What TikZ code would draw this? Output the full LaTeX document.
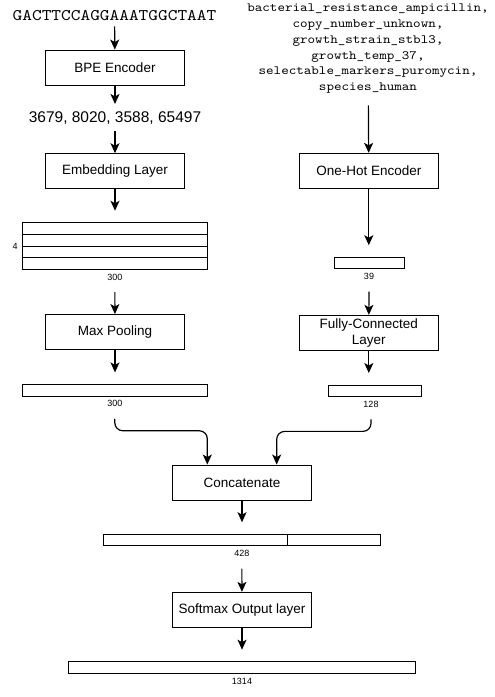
\documentclass[tikz,border=0pt]{standalone}
\usepackage{fontspec}
\setmainfont{Liberation Sans}
\newfontfamily\codefont[FakeStretch=1.14]{lmmono10-regular.otf}
\usetikzlibrary{arrows.meta, positioning, calc}

\begin{document}
\begin{tikzpicture}[
    x=1pt, y=-1pt,
    >={Stealth[length=10pt, width=9pt, inset=2.5pt]},
    layer/.style={
      rectangle, draw, line width=0.9pt, align=center,
      minimum width=138.6pt, minimum height=35pt, inner sep=2pt,
      font=\fontsize{13.5}{16}\selectfont
    },
    vec/.style={rectangle, draw, fill=white, line width=0.9pt, minimum height=11.7pt, inner sep=0pt},
    dim/.style={inner sep=0pt, font=\fontsize{9}{10}\selectfont},
    flow/.style={->, line width=1.2pt}
  ]
  \useasboundingbox (0,0) rectangle (495,697);

  % left branch: sequence tokens
  \node[anchor=base, inner sep=0pt, font=\codefont\fontsize{16.2}{18}\selectfont] (seq) at (114.5,20) {GACTTCCAGGAAATGGCTAAT};
  \node[layer] (bpe) at (115,67.5) {BPE Encoder};
  \node[anchor=base, inner sep=0pt, font=\fontsize{15.5}{18}\selectfont] (tok) at (115,122) {3679, 8020, 3588, 65497};
  \node[layer] (emb) at (115,171.2) {Embedding Layer};
  \node[vec, minimum width=185pt, minimum height=46.6pt] (mat) at (114.8,246) {};
  \foreach \f in {0.25,0.5,0.75}
    \draw[line width=0.9pt] ($(mat.north west)!\f!(mat.south west)$) -- ($(mat.north east)!\f!(mat.south east)$);
  \node[dim, left=4pt of mat] (matrows) {4};
  \node[dim, below=4pt of mat] (matcols) {300};
  \node[layer] (pool) at (115,332) {Max Pooling};
  \node[vec, minimum width=185pt] (vpool) at (114.8,390.2) {};
  \node[dim, below=4pt of vpool] (dpool) {300};

  % right branch: metadata
  \node[anchor=north, inner sep=0pt, align=center, font=\codefont\fontsize{12.6}{15.7}\selectfont] (meta) at (368,4)
    {bacterial\_resistance\_ampicillin,\\copy\_number\_unknown,\\growth\_strain\_stbl3,\\growth\_temp\_37,\\selectable\_markers\_puromycin,\\species\_human};
  \node[layer] (hot) at (368.8,170.8) {One-Hot Encoder};
  \node[vec, minimum width=70pt] (v39) at (369,263) {};
  \node[dim, below=4pt of v39] (d39) {39};
  \node[layer] (fc) at (368.8,332.8) {Fully-Connected\\Layer};
  \node[vec, minimum width=92.6pt] (v128) at (375,390.8) {};
  \node[dim, below=4pt of v128, xshift=-4pt] (d128) {128};

  % merge
  \node[layer] (cat) at (242,482.5) {Concatenate};
  \node[vec, minimum width=277.7pt] (v428) at (241.8,540) {};
  \draw[line width=0.9pt] ($(v428.north west)+(185,0)$) -- ($(v428.south west)+(185,0)$);
  \node[dim, below=4pt of v428] (d428) {428};
  \node[layer] (soft) at (242,609.8) {Softmax Output layer};
  \node[vec, minimum width=346.6pt] (vout) at (242,667.5) {};
  \node[dim, below=4pt of vout] (dout) {1314};

  \draw[flow, shorten <=6pt] (seq) -- (bpe);
  \draw[flow, shorten >=7pt] (bpe) -- (tok);
  \draw[flow, shorten <=7pt] (tok) -- (emb);
  \draw[flow, shorten <=12pt] (meta) -- (hot);
  \foreach \a/\b in {emb/mat, pool/vpool, hot/v39, fc/v128, cat/v428, soft/vout}
    \draw[flow, shorten >=11.5pt] (\a) -- (\a |- \b.north);
  \foreach \a/\b in {matcols/pool, d39/fc, d428/soft}
    \draw[flow, shorten <=11.5pt] (\a) -- (\b);

  % rounded joins into concat
  \coordinate (poolout) at ([yshift=-11.5pt]dpool.south);
  \coordinate (fcout) at ([yshift=-11.5pt]d128.south);
  \draw[flow, rounded corners=8pt] (poolout) -- ++(0,12) -| ([xshift=-34.7pt]cat.north);
  \draw[flow, rounded corners=8pt] (fcout) -- ++(0,12) -| ([xshift=34.7pt]cat.north);
\end{tikzpicture}
\end{document}
